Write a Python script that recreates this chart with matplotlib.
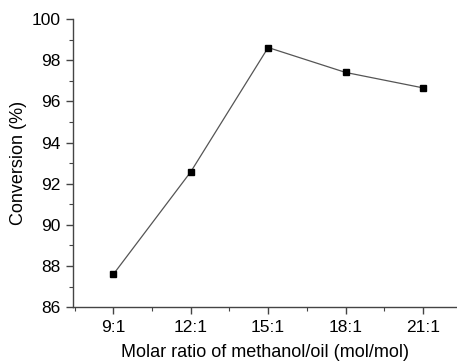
import numpy as np
import matplotlib.pyplot as plt
from matplotlib.ticker import MultipleLocator

plt.rcParams['font.family'] = ['Liberation Sans', 'DejaVu Sans']

ratios = ["9:1", "12:1", "15:1", "18:1", "21:1"]
conversion = [87.6, 92.58, 98.62, 97.41, 96.66]

x = np.arange(len(ratios))

fig = plt.figure(figsize=(4.57, 3.61), dpi=100)
ax = fig.add_axes([0.16, 0.149, 0.84, 0.798])

ax.plot(x, conversion, color="#555555", linewidth=0.9,
        marker="s", markersize=5, markerfacecolor="black", markeredgecolor="black")

ax.set_xlim(-0.52, 4.44)
ax.set_ylim(86, 100)
ax.set_xticks(x)
ax.set_xticklabels(ratios)
ax.xaxis.set_minor_locator(MultipleLocator(0.5))
ax.yaxis.set_major_locator(MultipleLocator(2))
ax.yaxis.set_minor_locator(MultipleLocator(1))

for side in ("top", "right"):
    ax.spines[side].set_visible(False)
for side in ("left", "bottom"):
    ax.spines[side].set_color("#444444")
    ax.spines[side].set_linewidth(1.0)

ax.tick_params(which="major", length=5, width=1.0, color="#444444", labelsize=12.5, pad=4)
ax.tick_params(which="minor", length=3, width=0.8, color="#444444")

ax.set_xlabel("Molar ratio of methanol/oil (mol/mol)", fontsize=13, labelpad=7)
ax.set_ylabel("Conversion (%)", fontsize=13, labelpad=3)

fig.savefig("out.png", dpi=100)
